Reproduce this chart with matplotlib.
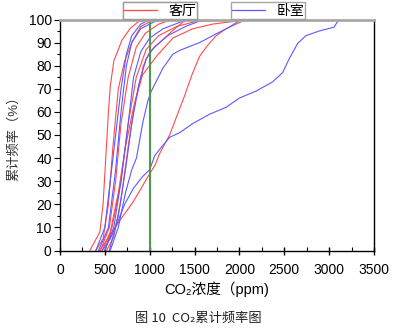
import matplotlib
matplotlib.use("Agg")
import matplotlib.pyplot as plt
from matplotlib.lines import Line2D
from matplotlib.ticker import MultipleLocator

plt.rcParams['font.family'] = ['Liberation Sans', 'Noto Sans CJK SC', 'DejaVu Sans']

# Cumulative frequency (%) levels and the CO2 concentration (ppm) at each level
living_room = [
    ([333, 444, 480, 510, 540, 560, 600, 690, 780, 870, 1000],
     [0, 8, 20, 40, 60, 71, 82, 91, 96, 99, 100]),
    ([400, 480, 540, 590, 650, 720, 800, 900, 1000, 1100],
     [0, 5, 20, 45, 70, 82, 90, 97, 99, 100]),
    ([450, 550, 620, 680, 760, 850, 950, 1100, 1250],
     [0, 10, 30, 55, 75, 88, 94, 98, 100]),
    ([500, 580, 680, 760, 850, 960, 1100, 1300, 1500, 1800],
     [0, 10, 30, 55, 75, 87, 93, 97, 99, 100]),
    ([444, 555, 685, 815, 981, 1060, 1111, 1222, 1300, 1389, 1470, 1555, 1650, 1741, 1850, 1963, 2074],
     [0, 6.5, 14, 21, 32, 37, 42, 50, 58, 67, 76, 84, 89, 93, 96, 98, 100]),
    ([470, 560, 650, 730, 820, 920, 1074, 1259, 1481, 1700, 2000, 2400],
     [0, 8, 25, 45, 62, 76, 84, 92, 96, 98, 99.5, 100]),
    ([520, 600, 680, 760, 840, 930, 1000, 1111, 1250, 1407],
     [0, 6, 22, 45, 65, 80, 86, 90, 95, 100]),
]

bedroom = [
    ([400, 500, 560, 620, 680, 740, 800, 900, 1000],
     [0, 10, 30, 50, 70, 85, 93, 98, 100]),
    ([430, 540, 620, 680, 740, 800, 900, 1050, 1200],
     [0, 10, 35, 60, 80, 90, 96, 99, 100]),
    ([500, 600, 680, 760, 820, 900, 1000, 1150, 1350, 1500],
     [0, 10, 30, 55, 75, 86, 92, 96, 99, 100]),
    ([550, 650, 730, 800, 880, 960, 1050, 1200, 1400, 1600],
     [0, 15, 35, 55, 72, 83, 88, 93, 97, 100]),
    ([560, 650, 730, 800, 852, 926, 981, 1018, 1148, 1259, 1333, 1555, 1741, 1889, 2018],
     [0, 10, 25, 35, 40, 56, 65, 69, 79, 85, 86.6, 90, 93.8, 96.7, 100]),
    ([470, 560, 640, 720, 820, 920, 1000, 1055, 1130, 1222, 1333, 1481, 1667, 1852, 2000,
      2185, 2370, 2481, 2555, 2648, 2741, 2888, 3055, 3092, 3130],
     [0, 5, 12, 20, 27, 32, 35, 41, 44.7, 49, 51, 55, 59, 62, 66,
      69, 73, 77, 83, 89.6, 93, 95, 96.7, 99, 100]),
]

limit_ppm = 1000
red = '#ff4a4a'
blue = '#5a5aff'

fig = plt.figure(figsize=(3.95, 3.29), dpi=100)
ax = fig.add_axes([60 / 395, 1 - 250.5 / 329, 314 / 395, 231 / 329])

for x, y in living_room:
    ax.plot(x, y, color=red, lw=0.8)
for x, y in bedroom:
    ax.plot(x, y, color=blue, lw=0.8)
ax.plot([limit_ppm, limit_ppm], [0, 100], color='#4c9a4c', lw=1.5)

ax.set_xlim(0, 3500)
ax.set_ylim(0, 100)
ax.xaxis.set_major_locator(MultipleLocator(500))
ax.xaxis.set_minor_locator(MultipleLocator(250))
ax.yaxis.set_major_locator(MultipleLocator(10))
ax.yaxis.set_minor_locator(MultipleLocator(5))
ax.tick_params(axis='x', which='major', direction='inout', length=6, width=1, labelsize=10, pad=6)
ax.tick_params(axis='x', which='minor', direction='in', length=3, width=0.8)
ax.tick_params(axis='y', which='major', direction='out', length=4, width=0.8, labelsize=10, pad=2)
ax.tick_params(axis='y', which='minor', direction='out', length=2, width=0.8)

for s in ('left', 'bottom', 'right'):
    ax.spines[s].set_color('black')
    ax.spines[s].set_linewidth(1)
ax.spines['top'].set_color('#a8a8a8')
ax.spines['top'].set_linewidth(2)

ax.set_xlabel('CO₂浓度（ppm)', fontsize=10.5, labelpad=3)
ax.set_ylabel('累计频率（%）', fontsize=9.5, labelpad=6, color='#333333')

h_live = Line2D([], [], color=red, lw=0.9)
h_bed = Line2D([], [], color=blue, lw=0.9)
leg1 = fig.legend([h_live], ['客厅'], loc='center', bbox_to_anchor=(160 / 395, 1 - 10.5 / 329),
                  fontsize=10, frameon=True, fancybox=False, edgecolor='#909090',
                  handlelength=2.4, borderpad=0.1, handletextpad=0.8, borderaxespad=0)
leg1.get_frame().set_linewidth(1)
leg2 = fig.legend([h_bed], ['卧室'], loc='center', bbox_to_anchor=(268 / 395, 1 - 10.5 / 329),
                  fontsize=10, frameon=True, fancybox=False, edgecolor='#909090',
                  handlelength=2.4, borderpad=0.1, handletextpad=0.8, borderaxespad=0)
leg2.get_frame().set_linewidth(1)
fig.add_artist(leg1)

fig.text(198 / 395, 1 - 318 / 329, '图 10  CO₂累计频率图', ha='center', va='center',
         fontsize=9.5, color='#222222', family=['Noto Sans CJK SC', 'DejaVu Sans'])

fig.savefig('out.png', dpi=100)
